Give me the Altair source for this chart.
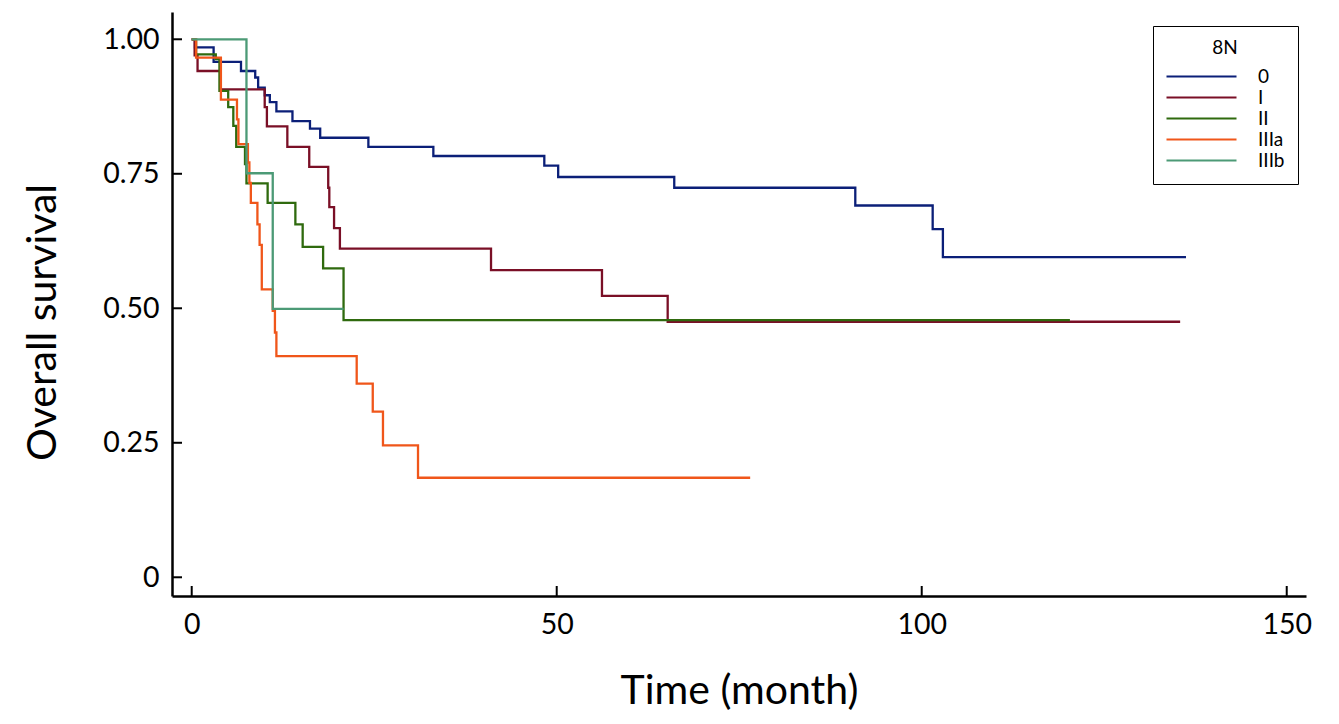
import altair as alt
import pandas as pd

groups = ["0", "I", "II", "IIIa", "IIIb"]
colors = ["#0b1f78", "#7a0f26", "#2f6a0e", "#f0561a", "#4c9a76"]

t_0 = [0, 0.45, 3.0, 6.75, 8.7, 9.1, 10.0, 10.7, 11.6, 13.8, 16.2, 17.6, 24.2, 33.1, 48.3, 50.2, 66.1, 90.9, 101.5, 102.9, 136.2]
s_0 = [1.0, 0.985, 0.958, 0.941, 0.929, 0.910, 0.896, 0.883, 0.866, 0.848, 0.834, 0.817, 0.800, 0.783, 0.765, 0.744, 0.724, 0.691, 0.647, 0.595, 0.595]

t_I = [0, 0.4, 0.8, 3.9, 10.0, 10.3, 13.1, 16.1, 18.7, 18.85, 19.5, 20.3, 41.0, 56.2, 65.2, 135.4]
s_I = [1.0, 0.97, 0.941, 0.907, 0.874, 0.838, 0.800, 0.763, 0.724, 0.688, 0.649, 0.611, 0.571, 0.523, 0.475, 0.475]

t_II = [0, 0.6, 3.3, 3.8, 5.0, 5.7, 6.1, 7.3, 7.5, 10.4, 14.2, 15.2, 18.0, 20.8, 120.3]
s_II = [1.0, 0.972, 0.963, 0.904, 0.874, 0.839, 0.800, 0.768, 0.732, 0.696, 0.656, 0.614, 0.574, 0.478, 0.478]

t_IIIa = [0, 0.6, 4.0, 6.2, 6.4, 7.7, 7.9, 8.1, 9.0, 9.3, 9.6, 11.1, 11.4, 11.6, 22.6, 24.8, 26.2, 31.0, 76.5]
s_IIIa = [1.0, 0.966, 0.888, 0.851, 0.805, 0.771, 0.733, 0.696, 0.656, 0.618, 0.535, 0.495, 0.455, 0.411, 0.360, 0.308, 0.245, 0.185, 0.185]

t_IIIb = [0, 7.5, 11.1, 20.8]
s_IIIb = [1.0, 0.751, 0.499, 0.499]

x_ticks = [0, 50, 100, 150]
y_ticks = [0, 0.25, 0.5, 0.75, 1.0]

series = {"0": (t_0, s_0), "I": (t_I, s_I), "II": (t_II, s_II),
          "IIIa": (t_IIIa, s_IIIa), "IIIb": (t_IIIb, s_IIIb)}
rows = []
for g in groups:
    ts, ss = series[g]
    for i, (t, s) in enumerate(zip(ts, ss)):
        rows.append({"group": g, "time": t, "surv": s, "idx": i})
df = pd.DataFrame(rows)

W, H = 1134, 584
xscale = alt.Scale(domain=[-2.70, 152.64], nice=False, zero=False)
yscale = alt.Scale(domain=[-0.0348, 1.0507], nice=False, zero=False)

lines = alt.Chart(df).mark_line(interpolate="step-after", strokeWidth=2.3).encode(
    x=alt.X("time:Q", scale=xscale,
            axis=alt.Axis(values=x_ticks, title="Time (month)", labelPadding=14,
                          titleY=107, titleBaseline="alphabetic")),
    y=alt.Y("surv:Q", scale=yscale,
            axis=alt.Axis(values=y_ticks, title="Overall survival", labelPadding=13,
                          labelExpr="datum.value == 0 ? '0' : format(datum.value, '.2f')",
                          titleAngle=270, titleX=-117, titleY=310,
                          titleBaseline="alphabetic", titleAlign="center")),
    color=alt.Color("group:N",
                    scale=alt.Scale(domain=groups, range=colors),
                    legend=alt.Legend(title="8N", orient="none", legendX=981, legendY=14,
                                      strokeColor="black", fillColor="white", padding=13,
                                      symbolType="M-7,0H7", symbolSize=100,
                                      symbolStrokeWidth=2.2, symbolOffset=26, labelOffset=47,
                                      labelFont="Lato", labelFontSize=19, labelColor="black",
                                      titleFont="Lato", titleFontSize=19, titleFontWeight="normal",
                                      titleColor="black", titleAnchor="middle", titlePadding=9,
                                      rowPadding=1)),
    order="idx:Q",
)

ytick_df = pd.DataFrame({"v": y_ticks})
xtick_df = pd.DataFrame({"t": x_ticks})

yticks = alt.Chart(ytick_df).mark_rule(color="black", strokeWidth=2).encode(
    y=alt.Y("v:Q", scale=yscale), x=alt.value(0), x2=alt.value(10))
xticks = alt.Chart(xtick_df).mark_rule(color="black", strokeWidth=2).encode(
    x=alt.X("t:Q", scale=xscale), y=alt.value(H), y2=alt.value(H - 10))

chart = alt.layer(lines, yticks, xticks).properties(
    width=W, height=H,
    autosize=alt.AutoSizeParams(type="none"),
    padding={"left": 164, "top": 4, "right": 20, "bottom": 120},
).configure_view(stroke=None).configure_axis(
    grid=False, ticks=False, tickSize=0,
    domainColor="black", domainWidth=2.5,
    labelFont="Lato", labelFontSize=28.5, labelColor="black",
    titleFont="Lato", titleFontSize=41, titleFontWeight="normal", titleColor="black",
)

chart.save("out.html", embed_options={"renderer": "svg", "actions": False})
